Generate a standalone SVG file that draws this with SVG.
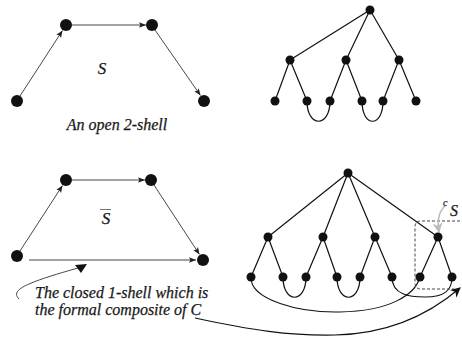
<svg xmlns="http://www.w3.org/2000/svg" width="462" height="340" viewBox="0 0 462 340">
  <defs>
    <marker id="arr" viewBox="0 0 10 10" refX="10" refY="5" markerWidth="7" markerHeight="7" markerUnits="userSpaceOnUse" orient="auto">
      <path d="M0,1 L10,5 L0,9 L2,5 Z" fill="#222"/>
    </marker>
    <marker id="arrBig" viewBox="0 0 10 10" refX="9" refY="5" markerWidth="10" markerHeight="10" markerUnits="userSpaceOnUse" orient="auto">
      <path d="M0,0 L10,5 L0,10 L3,5 Z" fill="#111"/>
    </marker>
    <marker id="arrGray" viewBox="0 0 10 10" refX="9" refY="5" markerWidth="10" markerHeight="10" markerUnits="userSpaceOnUse" orient="auto">
      <path d="M0,0 L10,5 L0,10 L3,5 Z" fill="#bbb"/>
    </marker>
  </defs>
  <style>
    .big { fill: #111; }
    .dot { fill: #111; }
    .thin { stroke: #333; stroke-width: 0.9; fill: none; }
    .tree { stroke: #111; stroke-width: 1.2; fill: none; }
    .curve { stroke: #111; stroke-width: 1.1; fill: none; }
    .dash { stroke: #444; stroke-width: 1; fill: none; stroke-dasharray: 3 2; }
    .lbl { font-family: 'Liberation Serif', 'DejaVu Serif', serif; font-style: italic; fill: #1a1a1a; stroke: #1a1a1a; stroke-width: 0.25; }
    .cap { font-size: 16px; }
    .sym { font-size: 17px; }
  </style>

  <rect width="462" height="340" fill="#fff"/>

  <!-- connectors -->
  <g id="connectors">
    <!-- open 2-shell -->
    <line class="thin" x1="20" y1="96" x2="62.5" y2="30.5" marker-end="url(#arr)"/>
    <line class="thin" x1="72" y1="25" x2="146" y2="25" marker-end="url(#arr)"/>
    <line class="thin" x1="155" y1="30" x2="200.5" y2="95.5" marker-end="url(#arr)"/>

    <!-- closed shell -->
    <line class="thin" x1="20" y1="251" x2="62.5" y2="185.5" marker-end="url(#arr)"/>
    <line class="thin" x1="72" y1="180" x2="145" y2="180" marker-end="url(#arr)"/>
    <line class="thin" x1="154" y1="185" x2="199.5" y2="254.5" marker-end="url(#arr)"/>
    <line class="thin" x1="29" y1="260" x2="196" y2="260" marker-end="url(#arr)"/>

    <!-- pointer to the closed 1-shell -->
    <path class="thin" d="M19,299 C10,290 25,283 78,268"/>
    <polygon points="75,265 87,264 81,273" fill="#111"/>

    <!-- upper tree -->
    <path class="tree" d="M370,10 L290,60 M370,10 L346,60 M370,10 L399,60
      M290,60 L275,101 M290,60 L307,101
      M346,60 L330,101 M346,60 L362,101
      M399,60 L383,101 M399,60 L416,101"/>
    <path class="tree" d="M307,101 C307,128 330,128 330,101"/>
    <path class="tree" d="M362,101 C362,128 383,128 383,101"/>

    <!-- lower tree -->
    <path class="tree" d="M348,173 L268,237 M348,173 L323,237 M348,173 L375,237 M348,173 L438,237
      M268,237 L251,277 M268,237 L283,277
      M323,237 L306,277 M323,237 L337,277
      M375,237 L360,277 M375,237 L392,277
      M438,237 L420,277 M438,237 L452,277"/>
    <path class="tree" d="M283,277 C283,304 306,304 306,277"/>
    <path class="tree" d="M337,277 C337,304 360,304 360,277"/>
    <path class="curve" d="M251,277 C250,300 300,313 340,312 C390,311 415,295 420,277"/>
    <path class="curve" d="M392,277 C392,295 410,297 425,297 C445,297 452,290 452,277"/>

    <!-- subshell boundary -->
    <path class="dash" d="M475,221 L421,221 Q415,221 415,227 L415,283 Q415,289 421,289 L454,289"/>

    <!-- pointer from the composite label -->
    <path class="curve" d="M195,318 C250,330 290,336 335,335 C385,334 425,318 460,288" marker-end="url(#arrBig)"/>

    <!-- subshell label pointer -->
    <path d="M445,206 Q436,214 439,232" stroke="#bbb" stroke-width="1.6" fill="none" marker-end="url(#arrGray)"/>
  </g>

  <!-- open 2-shell nodes -->
  <g id="open-shell">
    <circle class="big" cx="17" cy="101" r="6"/>
    <circle class="big" cx="66" cy="25" r="6"/>
    <circle class="big" cx="152" cy="25" r="6"/>
    <circle class="big" cx="204" cy="101" r="6"/>
    <text class="lbl sym" x="102" y="74" text-anchor="middle">S</text>
    <text class="lbl cap" x="117" y="130" text-anchor="middle">An open 2-shell</text>
  </g>

  <!-- closed shell nodes -->
  <g id="closed-shell">
    <circle class="big" cx="17" cy="256" r="6"/>
    <circle class="big" cx="66" cy="180" r="6"/>
    <circle class="big" cx="151" cy="180" r="6"/>
    <circle class="big" cx="203" cy="260" r="6"/>
    <text class="lbl sym" x="106" y="224" text-anchor="middle">S</text>
    <line x1="100" y1="209.5" x2="111" y2="209.5" stroke="#777" stroke-width="1"/>
    <text class="lbl cap" x="35" y="298">The closed 1-shell which is</text>
    <text class="lbl cap" x="35" y="315">the formal composite of C</text>
  </g>

  <!-- upper tree nodes -->
  <g id="tree-top">
    <circle class="dot" cx="370" cy="10" r="4.5"/>
    <circle class="dot" cx="290" cy="60" r="4.5"/>
    <circle class="dot" cx="346" cy="60" r="4.5"/>
    <circle class="dot" cx="399" cy="60" r="4.5"/>
    <circle class="dot" cx="275" cy="101" r="4.5"/>
    <circle class="dot" cx="307" cy="101" r="4.5"/>
    <circle class="dot" cx="330" cy="101" r="4.5"/>
    <circle class="dot" cx="362" cy="101" r="4.5"/>
    <circle class="dot" cx="383" cy="101" r="4.5"/>
    <circle class="dot" cx="416" cy="101" r="4.5"/>
  </g>

  <!-- lower tree nodes -->
  <g id="tree-bottom">
    <circle class="dot" cx="348" cy="173" r="4.5"/>
    <circle class="dot" cx="268" cy="237" r="4.5"/>
    <circle class="dot" cx="323" cy="237" r="4.5"/>
    <circle class="dot" cx="375" cy="237" r="4.5"/>
    <circle class="dot" cx="438" cy="237" r="4.5"/>
    <circle class="dot" cx="251" cy="277" r="4.5"/>
    <circle class="dot" cx="283" cy="277" r="4.5"/>
    <circle class="dot" cx="306" cy="277" r="4.5"/>
    <circle class="dot" cx="337" cy="277" r="4.5"/>
    <circle class="dot" cx="360" cy="277" r="4.5"/>
    <circle class="dot" cx="392" cy="277" r="4.5"/>
    <circle class="dot" cx="420" cy="277" r="4.5"/>
    <circle class="dot" cx="452" cy="277" r="4.5"/>
  </g>

  <!-- subshell label -->
  <g id="label-cs">
    <text class="lbl" x="443" y="206" font-size="10">c</text>
    <text class="lbl" x="450" y="216" font-size="16">S</text>
  </g>
</svg>
